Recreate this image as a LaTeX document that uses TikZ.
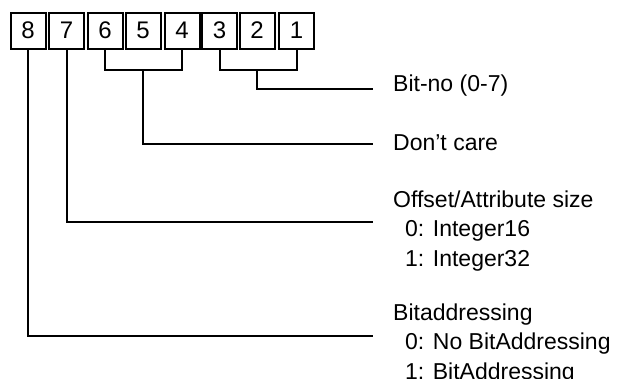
\documentclass[tikz,border=0pt]{standalone}
\usepackage{fontspec}
\setmainfont{Liberation Sans}
\begin{document}
\begin{tikzpicture}[x=1pt,y=-1pt,
  bitbox/.style={draw,line width=2pt,minimum width=35pt,minimum height=36pt,
    inner sep=0pt,font=\fontsize{24}{26}\selectfont},
  wire/.style={line width=2pt},
  lbl/.style={anchor=west,inner sep=0pt,align=left,
    font=\fontsize{23}{29.5}\selectfont}]
\useasboundingbox (0,0) rectangle (620,378);
\clip (0,0) rectangle (620,378);

% the eight bit cells, bit 8 on the left
\node[bitbox] (b8) at (28,30.5)    {8};
\node[bitbox] (b7) at (66.5,30.5)  {7};
\node[bitbox] (b6) at (105,30.5)   {6};
\node[bitbox] (b5) at (143,30.5)   {5};
\node[bitbox] (b4) at (182,30.5)   {4};
\node[bitbox] (b3) at (219.5,30.5) {3};
\node[bitbox] (b2) at (257,30.5)   {2};
\node[bitbox] (b1) at (296.5,30.5) {1};

% bracket joints and line ends
\coordinate (jA) at (143,70);
\coordinate (jB) at (257,70);
\coordinate (eBit) at (373,89);
\coordinate (eDc)  at (373,144);
\coordinate (eOff) at (373,222);
\coordinate (eBa)  at (373,336);

% descriptions
\node[lbl] (tBit) at (393,86)  {Bit-no (0-7)};
\node[lbl] (tDc)  at (393,143) {Don't care};
\node[lbl] (tOff) at (393,231) {Offset/Attribute size\\\hspace*{12pt}0: Integer16\\\hspace*{12pt}1: Integer32};
\node[lbl] (tBa)  at (393,344) {Bitaddressing\\\hspace*{12pt}0: No BitAddressing\\\hspace*{12pt}1: BitAddressing};

% brackets and leader lines
\draw[wire] (b3.south) |- (jB) -| (b1.south);
\draw[wire] (jB) |- (eBit);
\draw[wire] (b6.south) |- (jA) -| (b4.south);
\draw[wire] (jA) |- (eDc);
\draw[wire] (b7.south) |- (eOff);
\draw[wire] (b8.south) |- (eBa);
\end{tikzpicture}
\end{document}
